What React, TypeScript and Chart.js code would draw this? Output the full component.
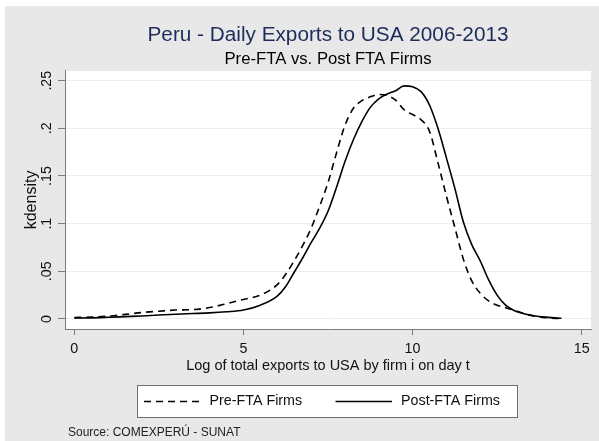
import { useEffect, useRef } from "react";
import { Chart, registerables } from "chart.js";

Chart.register(...registerables);

// Log of total exports (x) at which both density estimates are listed
const exportLog = [
  0, 0.5, 1, 1.5, 2, 2.5, 3, 3.5, 4, 4.5, 5, 5.5, 6, 6.25, 6.5, 6.75, 7, 7.25, 7.5, 7.75,
  8, 8.25, 8.5, 8.75, 9, 9.25, 9.5, 9.75, 10, 10.25, 10.5, 10.75, 11, 11.25, 11.5, 11.75,
  12, 12.25, 12.5, 12.75, 13, 13.5, 14, 14.4,
];

// Kernel density, firms exporting before the FTA
const preFtaDensity = [
  0.0015, 0.002, 0.003, 0.0048, 0.0068, 0.0082, 0.0094, 0.0098, 0.012, 0.016, 0.0205, 0.025,
  0.036, 0.047, 0.061, 0.077, 0.095, 0.118, 0.143, 0.174, 0.203, 0.221, 0.229, 0.233, 0.2355,
  0.2345, 0.2295, 0.2195, 0.2145, 0.209, 0.197, 0.164, 0.129, 0.096, 0.063, 0.04, 0.027, 0.019,
  0.0145, 0.0118, 0.0092, 0.0038, 0.0012, 0.0005,
];

// Kernel density, firms exporting after the FTA
const postFtaDensity = [
  0.001, 0.0012, 0.0018, 0.0025, 0.0032, 0.0042, 0.005, 0.0057, 0.0064, 0.0076, 0.0095, 0.0145,
  0.024, 0.034, 0.049, 0.064, 0.08, 0.095, 0.113, 0.138, 0.165, 0.188, 0.207, 0.222, 0.231,
  0.236, 0.2395, 0.2445, 0.2435, 0.2385, 0.2245, 0.2, 0.169, 0.137, 0.102, 0.078, 0.061, 0.041,
  0.025, 0.0145, 0.009, 0.004, 0.0017, 0.0007,
];

const seriesLabels = ["Pre-FTA Firms", "Post-FTA Firms"];
const xTickValues = [0, 5, 10, 15];
const yTickValues = [0, 0.05, 0.1, 0.15, 0.2, 0.25];

const FONT = "'Liberation Sans', Arial, Helvetica, sans-serif";
const AXIS_GREY = "#7c7c7c";
const PANEL_GREY = "#e8e8e8";

const densityLabel = (v: number) =>
  v === 0 ? "0" : String(Number(v.toFixed(2))).replace(/^0/, "");

// Grey graph region with a white plot panel
const backdrop = {
  id: "backdrop",
  beforeDraw(chart: any) {
    const { ctx, width, height, chartArea } = chart;
    ctx.save();
    ctx.fillStyle = "#ffffff";
    ctx.fillRect(0, 0, width, height);
    ctx.fillStyle = PANEL_GREY;
    ctx.fillRect(5, 6, width - 5, height - 6);
    ctx.fillStyle = "#ffffff";
    ctx.fillRect(
      chartArea.left,
      chartArea.top,
      chartArea.right - chartArea.left,
      chartArea.bottom - chartArea.top
    );
    ctx.restore();
  },
};

// Vertical y tick labels, boxed legend and source note
const annotations = {
  id: "annotations",
  afterDraw(chart: any) {
    const { ctx, chartArea } = chart;
    const yScale = chart.scales.y;
    ctx.save();

    ctx.fillStyle = "#111";
    ctx.font = `14.3px ${FONT}`;
    ctx.textAlign = "center";
    ctx.textBaseline = "middle";
    for (const t of yScale.ticks) {
      const py = yScale.getPixelForValue(t.value);
      ctx.save();
      ctx.translate(47.5, py);
      ctx.rotate(-Math.PI / 2);
      ctx.fillText(densityLabel(t.value), 0, 0);
      ctx.restore();
    }

    const cx = (chartArea.left + chartArea.right) / 2;
    const boxLeft = Math.round(cx - 191) + 0.5;
    const boxTop = 385.5;
    const boxW = 380;
    const boxH = 32;
    ctx.fillStyle = "#ffffff";
    ctx.fillRect(boxLeft, boxTop, boxW, boxH);
    ctx.strokeStyle = "#6e6e6e";
    ctx.lineWidth = 1;
    ctx.strokeRect(boxLeft, boxTop, boxW, boxH);

    const midY = boxTop + boxH / 2;
    chart.data.datasets.forEach((ds: any, i: number) => {
      const x0 = boxLeft + 6.5 + i * 191.5;
      ctx.beginPath();
      ctx.setLineDash(ds.borderDash || []);
      ctx.strokeStyle = ds.borderColor;
      ctx.lineWidth = ds.borderWidth;
      ctx.moveTo(x0, midY);
      ctx.lineTo(x0 + 56.5, midY);
      ctx.stroke();
      ctx.setLineDash([]);
      ctx.fillStyle = "#111";
      ctx.font = `14.3px ${FONT}`;
      ctx.textAlign = "left";
      ctx.textBaseline = "middle";
      ctx.fillText(ds.label, x0 + 65.5, midY);
    });

    ctx.fillStyle = "#222";
    ctx.font = `12px ${FONT}`;
    ctx.textAlign = "left";
    ctx.textBaseline = "middle";
    ctx.fillText("Source: COMEXPERÚ - SUNAT", 68, 433);

    ctx.restore();
  },
};

export default function App() {
  const canvasRef = useRef<HTMLCanvasElement>(null);

  useEffect(() => {
    const canvas = canvasRef.current;
    if (!canvas) return;
    const chart = new Chart(canvas, {
      type: "line",
      data: {
        datasets: [
          {
            label: seriesLabels[0],
            data: exportLog.map((x, i) => ({ x, y: preFtaDensity[i] })),
            borderColor: "#000000",
            borderWidth: 1.6,
            borderDash: [7, 5],
            pointRadius: 0,
            cubicInterpolationMode: "monotone",
            fill: false,
          },
          {
            label: seriesLabels[1],
            data: exportLog.map((x, i) => ({ x, y: postFtaDensity[i] })),
            borderColor: "#000000",
            borderWidth: 1.6,
            pointRadius: 0,
            cubicInterpolationMode: "monotone",
            fill: false,
          },
        ],
      },
      options: {
        animation: false,
        responsive: false,
        devicePixelRatio: 1,
        events: [],
        layout: { padding: { left: 0, right: 8, top: 0, bottom: 66.6 } },
        plugins: {
          legend: { display: false },
          tooltip: { enabled: false },
          title: {
            display: true,
            text: "Peru - Daily Exports to USA 2006-2013",
            color: "#1e2c5c",
            font: { family: FONT, size: 20.75, weight: "normal" },
            padding: { top: 23, bottom: 0 },
            fullSize: false,
          },
          subtitle: {
            display: true,
            text: "Pre-FTA vs. Post FTA Firms",
            color: "#000000",
            font: { family: FONT, size: 16.7, weight: "normal" },
            padding: { top: 1, bottom: 2 },
            fullSize: false,
          },
        },
        scales: {
          x: {
            type: "linear",
            min: -0.275,
            max: 15.275,
            afterBuildTicks: (s: any) => {
              s.ticks = xTickValues.map((v) => ({ value: v }));
            },
            afterFit: (s: any) => {
              s.height = 45.4;
            },
            ticks: {
              font: { family: FONT, size: 14.3 },
              color: "#111",
              padding: 5,
              maxRotation: 0,
              autoSkip: false,
              callback: (v: any) => String(v),
            },
            grid: {
              drawOnChartArea: false,
              drawTicks: true,
              tickLength: 6,
              tickColor: AXIS_GREY,
            },
            border: { display: true, color: AXIS_GREY, width: 1 },
            title: {
              display: true,
              text: "Log of total exports to USA by firm i on day t",
              color: "#111",
              font: { family: FONT, size: 14.5 },
              padding: { top: 0, bottom: 0 },
            },
          },
          y: {
            type: "linear",
            min: -0.0105,
            max: 0.2602,
            afterBuildTicks: (s: any) => {
              s.ticks = yTickValues.map((v) => ({ value: v }));
            },
            afterFit: (s: any) => {
              s.width = 65;
            },
            ticks: { display: false },
            grid: {
              color: "#e7f0f1",
              lineWidth: 1,
              drawTicks: true,
              tickLength: 7,
              tickColor: AXIS_GREY,
            },
            border: { display: true, color: AXIS_GREY, width: 1 },
            title: {
              display: true,
              text: "kdensity",
              color: "#111",
              font: { family: FONT, size: 16 },
              padding: { top: 22, bottom: 0 },
            },
          },
        },
      },
      plugins: [backdrop, annotations],
    });
    return () => chart.destroy();
  }, []);

  return (
    <div style={{ position: "absolute", left: 0, top: 0, width: 599, height: 441 }}>
      <canvas
        ref={canvasRef}
        width={599}
        height={441}
        style={{ display: "block", width: 599, height: 441 }}
      />
    </div>
  );
}
